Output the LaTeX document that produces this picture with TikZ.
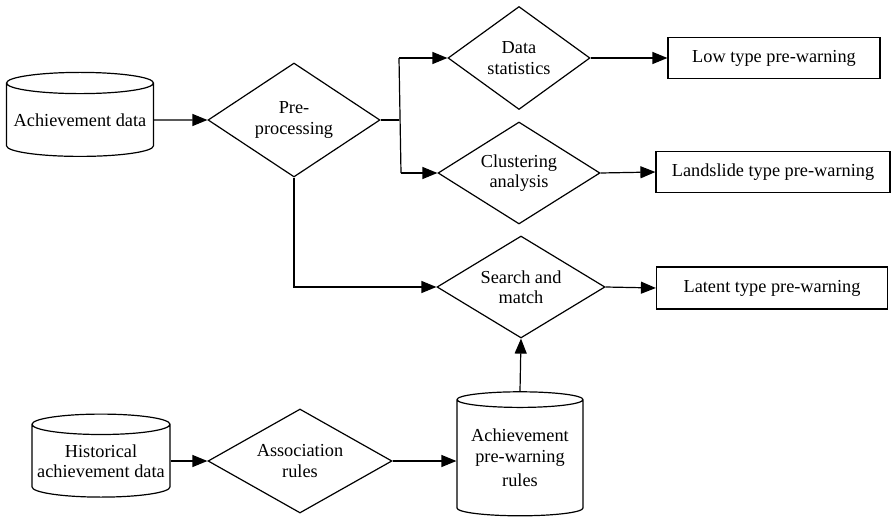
\documentclass[tikz,border=0pt]{standalone}
\usepackage{fontspec}
\setmainfont{Liberation Serif}
\usetikzlibrary{arrows.meta,shapes.geometric}

\begin{document}
\begin{tikzpicture}[x=1pt,y=-1pt,line width=1.2pt,
  every node/.style={font=\fontsize{18.3}{20.5}\selectfont,align=center,inner sep=0pt},
  decision/.style={diamond,draw,aspect=1.6},
  store/.style={cylinder,draw,shape border rotate=90,aspect=0.16},
  outbox/.style={rectangle,draw},
  flow/.style={-{Triangle[length=15pt,width=12pt]}}]
  \useasboundingbox (0,0) rectangle (892,522);
  % data stores
  \node[store,minimum width=147,minimum height=84] (ach) at (80,120) {Achievement data};
  \node[store,minimum width=138,minimum height=83] (hist) at (101,461) {Historical\\achievement data};
  \node[store,minimum width=126,minimum height=124] (rules) at (520,458) {Achievement\\pre-warning\\[4pt]rules};
  % decisions
  \node[decision,minimum width=172,minimum height=114] (pre) at (294,120) {Pre-\\processing};
  \node[decision,minimum width=142,minimum height=103] (stat) at (519,58) {Data\\statistics};
  \node[decision,minimum width=162,minimum height=102] (clus) at (519,173) {Clustering\\analysis};
  \node[decision,minimum width=168,minimum height=102] (srch) at (521,287) {Search and\\match};
  \node[decision,minimum width=184,minimum height=104] (assoc) at (300,461) {Association\\rules};
  % pre-warning outputs
  \node[outbox,minimum width=212,minimum height=41] (low) at (774,58) {Low type pre-warning};
  \node[outbox,minimum width=234,minimum height=41] (land) at (773,172) {Landslide type pre-warning};
  \node[outbox,minimum width=231,minimum height=42] (lat) at (772,288) {Latent type pre-warning};
  % branch after pre-processing
  \coordinate (jt) at (399,58);
  \coordinate (jb) at (401,173);
  \draw (pre.east) -- (pre.east -| jt);
  \draw (jt) -- (jb);
  \draw[flow] (jt) -- (stat.west);
  \draw[flow] (jb) -- (clus.west);
  \draw[flow] (pre.south) -- (pre.south |- srch.west) -- (srch.west);
  \draw[flow] (ach) -- (pre.west);
  \draw[flow] (stat.east) -- (low.west);
  \draw[flow] (clus.east) -- (land.west);
  \draw[flow] (srch.east) -- (lat.west);
  \draw[flow] (hist.east |- assoc.west) -- (assoc.west);
  \draw[flow] (assoc.east) -- (rules.west |- assoc.east);
  \draw[flow] (rules.north) -- (srch.south);
\end{tikzpicture}
\end{document}
